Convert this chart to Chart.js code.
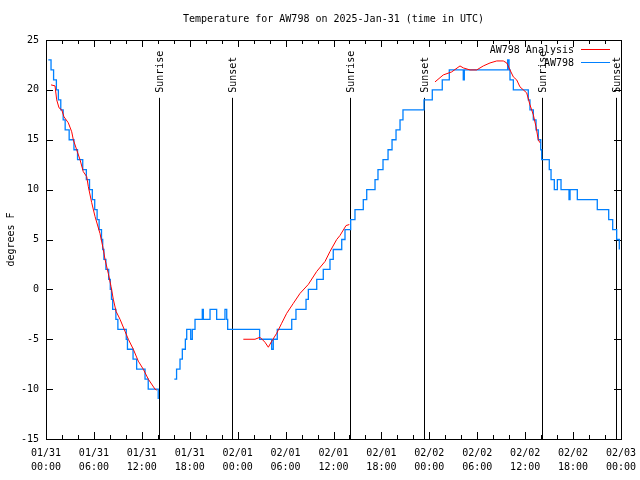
<!DOCTYPE html>
<html>
<head>
<meta charset="utf-8">
<script src="https://cdn.jsdelivr.net/npm/chart.js@4.4.1/dist/chart.umd.min.js"></script>
<style>
  html, body { margin: 0; padding: 0; background: #fff; }
  canvas { display: block; }
</style>
</head>
<body>
<canvas id="chart" width="640" height="480"></canvas>
<script>
// hours since 01/31 00:00 UTC, temps in F (null = gap)
const analysisHours = [0.63, 1.13, 1.34, 1.63, 1.97, 2.25, 2.79, 3.22, 3.42, 3.84, 4.26, 4.67, 5.1, 5.3, 5.72, 6.14, 6.76, 7.18, 7.39, 7.8, 8.14, 8.43, 8.77, 9.27, 9.89, 10.31, 10.93, 11.56, 12.18, 12.81, 13.65, 13.86,
  20,
  24.71, 26.17, 26.8, 27.42, 27.84, 28.26, 28.89, 29.51, 30.14, 30.97, 31.81, 32.85, 33.9, 34.94, 35.56, 36.4, 36.81, 37.57, 37.98,
  44,
  48.71, 49.75, 50.8, 51.84, 52.26, 53.09, 53.93, 54.76, 55.6, 56.44, 57.26, 57.69, 58.1, 58.52, 58.94, 59.35, 59.77, 60.19, 60.6, 61.02, 61.36, 61.64, 61.85];
const analysisTemps = [20.5, 20.4, 19, 18.2, 18, 17.3, 16.7, 15.8, 15, 14, 13, 11.8, 11.3, 10.3, 8.7, 7.3, 5.6, 4, 3, 1.6, 0.3, -1, -2.2, -3, -4.2, -5, -6, -7.2, -8, -9, -10, -10.1,
  null,
  -5, -5, -4.8, -5.3, -5.8, -5.2, -4.4, -3.4, -2.4, -1.4, -0.4, 0.5, 1.8, 2.8, 3.8, 5, 5.4, 6.4, 6.5,
  null,
  20.8, 21.5, 21.8, 22.4, 22.2, 22, 22, 22.4, 22.7, 22.9, 22.9, 22.7, 22, 21.3, 21, 20.3, 20, 19.7, 18.5, 17.5, 16.3, 15, 14.7];

const obsHours = [0.29, 0.63, 0.95, 1.3, 1.55, 1.85, 2.15, 2.4, 2.9, 3.5, 3.95, 4.6, 5.05, 5.45, 5.8, 6.1, 6.4, 6.65, 6.95, 7.1, 7.25, 7.5, 7.85, 8.05, 8.2, 8.35, 8.75, 9.0, 10.05, 10.2, 10.9, 11.35, 12.4, 12.8, 14.05,
  15,
  16.07, 16.35, 16.78, 17.07, 17.45, 17.62, 18.12, 18.32, 18.66, 19.57, 19.7, 20.54, 21.37, 22.41, 22.63, 22.75, 26.75, 28.26, 28.46, 28.96, 30.77, 31.3, 32.56, 32.85, 33.9, 34.72, 35.56, 35.97, 37.03, 37.44, 38.15, 38.69, 39.73, 40.16,
  41.2, 41.57, 42.2, 42.83, 43.33, 43.83, 44.33, 44.7, 47.33, 48.37, 49.62, 50.5, 52.25, 52.38, 57.81, 57.98, 58.1, 58.52, 60.39, 60.6, 61.02, 61.36, 61.64, 61.95, 62.07, 63.02, 63.24, 63.65, 64.03, 64.49, 65.49, 65.62, 66.53, 69.03, 70.46, 70.96, 71.46, 71.79];
const obsTemps = [23, 22, 21, 20, 19, 18, 17, 16, 15, 14, 13, 12, 11, 10, 9, 8, 7, 6, 5, 4, 3, 2, 1, 0, -1, -2, -3, -4, -5, -6, -7, -8, -9, -10, -11,
  null,
  -9, -8, -7, -6, -5, -4, -5, -4, -3, -2, -3, -2, -3, -2, -3, -4, -5, -6, -5, -4, -3, -2, -1, 0, 1, 2, 3, 4, 5, 6, 7, 8, 9, 10,
  11, 12, 13, 14, 15, 16, 17, 18, 19, 20, 21, 22, 21, 22, 23, 22, 21, 20, 19, 18, 17, 16, 15, 14, 13, 12, 11, 10, 11, 10, 9, 10, 9, 8, 7, 6, 5, 4];

const sunHours = [14.15, 23.33, 38.1, 47.37, 62.15, 71.41];
const sunLabels = ['Sunrise', 'Sunset', 'Sunrise', 'Sunset', 'Sunrise', 'Sunset'];

const xTickHours = [0, 6, 12, 18, 24, 30, 36, 42, 48, 54, 60, 66, 72];
const xTickLabels = [['01/31', '00:00'], ['01/31', '06:00'], ['01/31', '12:00'], ['01/31', '18:00'],
  ['02/01', '00:00'], ['02/01', '06:00'], ['02/01', '12:00'], ['02/01', '18:00'],
  ['02/02', '00:00'], ['02/02', '06:00'], ['02/02', '12:00'], ['02/02', '18:00'], ['02/03', '00:00']];
const yTicks = [-15, -10, -5, 0, 5, 10, 15, 20, 25];

const mono = "'DejaVu Sans Mono', 'Liberation Mono', monospace";

function zip(xs, ys) {
  return xs.map((h, i) => ({ x: h, y: ys[i] }));
}

// gnuplot style frame, inward ticks, sun lines, title, key
const gnuplotBits = {
  id: 'gnuplotBits',
  beforeDatasetsDraw(chart) {
    const { ctx, chartArea: a, scales: { x, y } } = chart;
    ctx.save();
    ctx.strokeStyle = '#000';
    ctx.lineWidth = 1;
    ctx.strokeRect(a.left + 0.5, a.top + 0.5, a.right - a.left, a.bottom - a.top);

    ctx.beginPath();
    for (let h = 0; h <= 72; h += 2) {
      const px = Math.round(x.getPixelForValue(h)) + 0.5;
      const len = xTickHours.includes(h) ? 7 : 4;
      ctx.moveTo(px, a.bottom); ctx.lineTo(px, a.bottom - len);
      ctx.moveTo(px, a.top); ctx.lineTo(px, a.top + len);
    }
    yTicks.forEach(v => {
      const py = Math.round(y.getPixelForValue(v)) + 0.5;
      ctx.moveTo(a.left, py); ctx.lineTo(a.left + 7, py);
      ctx.moveTo(a.right, py); ctx.lineTo(a.right - 7, py);
    });
    ctx.stroke();

    // sunrise / sunset markers
    ctx.font = '10px ' + mono;
    ctx.fillStyle = '#000';
    ctx.textAlign = 'left';
    ctx.textBaseline = 'middle';
    sunHours.forEach((h, i) => {
      const px = Math.round(x.getPixelForValue(h)) + 0.5;
      ctx.beginPath();
      ctx.moveTo(px, y.getPixelForValue(19.2));
      ctx.lineTo(px, a.bottom);
      ctx.stroke();
      ctx.save();
      ctx.translate(px + 1, y.getPixelForValue(19.7));
      ctx.rotate(-Math.PI / 2);
      ctx.fillText(sunLabels[i], 0, 0);
      ctx.restore();
    });
    ctx.restore();
  },
  afterDraw(chart) {
    const { ctx, chartArea: a } = chart;
    ctx.save();
    ctx.font = '10px ' + mono;
    ctx.fillStyle = '#000';
    ctx.textBaseline = 'middle';
    ctx.textAlign = 'center';
    ctx.fillText('Temperature for AW798 on 2025-Jan-31 (time in UTC)', (a.left + a.right) / 2, 19);

    // key
    ctx.textAlign = 'right';
    chart.data.datasets.forEach((ds, i) => {
      const ly = a.top + 10 + i * 13;
      ctx.fillText(ds.label, a.right - 47, ly);
      ctx.strokeStyle = ds.borderColor;
      ctx.lineWidth = 1;
      ctx.beginPath();
      ctx.moveTo(a.right - 40, Math.round(ly) - 0.5);
      ctx.lineTo(a.right - 11, Math.round(ly) - 0.5);
      ctx.stroke();
    });
    ctx.restore();
  }
};

new Chart(document.getElementById('chart'), {
  type: 'line',
  data: {
    datasets: [
      {
        label: 'AW798 Analysis',
        data: zip(analysisHours, analysisTemps),
        borderColor: '#ff0000',
        borderWidth: 1,
        pointRadius: 0,
        spanGaps: false
      },
      {
        label: 'AW798',
        data: zip(obsHours, obsTemps),
        borderColor: 'rgb(0,128,255)',
        borderWidth: 1.3,
        pointRadius: 0,
        stepped: 'before',
        spanGaps: false
      }
    ]
  },
  options: {
    responsive: false,
    animation: false,
    devicePixelRatio: 1,
    layout: { autoPadding: false, padding: { top: 40, right: 19, left: 0, bottom: 0 } },
    plugins: {
      legend: { display: false },
      tooltip: { enabled: false },
      title: { display: false }
    },
    scales: {
      x: {
        type: 'linear',
        min: 0,
        max: 72,
        afterBuildTicks: s => { s.ticks = xTickHours.map(v => ({ value: v })); },
        afterFit: s => { s.height = 41; s.paddingLeft = 0; s.paddingRight = 0; },
        grid: { display: false, drawTicks: false },
        border: { display: false },
        ticks: {
          autoSkip: false,
          maxRotation: 0,
          padding: 7,
          color: '#000',
          font: { family: mono, size: 10, lineHeight: 1.4 },
          callback: v => xTickLabels[xTickHours.indexOf(v)]
        }
      },
      y: {
        min: -15,
        max: 25,
        afterBuildTicks: s => { s.ticks = yTicks.map(v => ({ value: v })); },
        afterFit: s => { s.width = 46; s.paddingTop = 0; s.paddingBottom = 0; },
        grid: { display: false, drawTicks: false },
        border: { display: false },
        title: {
          display: true,
          text: 'degrees F',
          color: '#000',
          font: { family: mono, size: 10 },
          padding: { top: 5, bottom: 0 }
        },
        ticks: {
          padding: 7,
          color: '#000',
          font: { family: mono, size: 10 }
        }
      }
    }
  },
  plugins: [gnuplotBits]
});
</script>
</body>
</html>
